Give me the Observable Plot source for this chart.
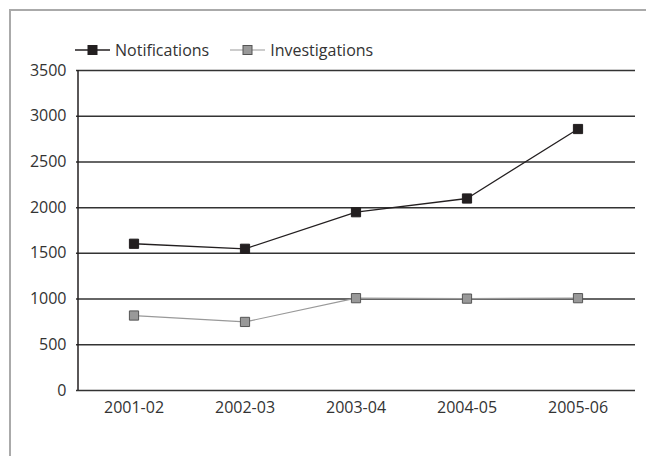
<!DOCTYPE html>
<html>
<head>
<meta charset="utf-8">
<script src="https://cdn.jsdelivr.net/npm/d3@7"></script>
<script src="https://cdn.jsdelivr.net/npm/@observablehq/plot@0.6"></script>
<style>
  html, body { margin: 0; padding: 0; background: #fff; overflow: hidden; }
  #wrap { position: relative; width: 646px; height: 456px; overflow: hidden; font-family: "Open Sans", sans-serif; }
  #btop { position: absolute; left: 9px; top: 9px; width: 637px; height: 2px; background: #aaa; }
  #bleft { position: absolute; left: 9px; top: 9px; width: 2px; height: 447px; background: #aaa; }
  #legend { position: absolute; left: 75px; top: 39px; display: flex; align-items: center; font-size: 16px; color: #333; }
  .item { display: flex; align-items: center; margin-right: 21px; }
  .item svg { margin-right: 5px; }
  #chart { position: absolute; left: 0; top: 0; width: 646px; height: 456px; overflow: hidden; }
</style>
</head>
<body>
<div id="wrap">
  <div id="btop"></div>
  <div id="bleft"></div>
  <div id="chart"></div>
  <div id="legend"></div>
</div>
<script>
const years = ["2001-02", "2002-03", "2003-04", "2004-05", "2005-06"];
const notifications = [1605, 1550, 1950, 2100, 2860];
const investigations = [820, 750, 1010, 1005, 1010];
const yTicks = [0, 500, 1000, 1500, 2000, 2500, 3000, 3500];
const seriesNames = ["Notifications", "Investigations"];

const series = [
  {name: seriesNames[0], values: notifications, stroke: "#231f20", fill: "#231f20", mstroke: "#231f20", width: 1.3},
  {name: seriesNames[1], values: investigations, stroke: "#999", fill: "#999", mstroke: "#555", width: 1.2}
];
const data = series.flatMap(s => years.map((y, i) => ({year: y, value: s.values[i], series: s.name})));

const chart = Plot.plot({
  width: 646,
  height: 456,
  marginLeft: 76,
  marginRight: 11,
  marginTop: 70,
  marginBottom: 66,
  style: {fontFamily: "Open Sans, sans-serif", fontSize: "16px", color: "#333", background: "transparent"},
  x: {type: "band", domain: years, padding: 0},
  y: {domain: [0, 3500]},
  marks: [
    Plot.ruleY(yTicks, {stroke: "#333", strokeWidth: 1.5}),
    Plot.ruleX([years[0]], {y1: 0, y2: 3500, stroke: "#231f20", strokeWidth: 1.5, dx: -56}),
    Plot.axisY({ticks: yTicks, tickFormat: d => String(d), tickSize: 0, tickPadding: 10, label: null, fill: "#333", fontSize: 16}),
    Plot.axisX({tickSize: 0, tickPadding: 11, label: null, fill: "#333", fontSize: 16}),
    ...series.map(s => Plot.line(data.filter(d => d.series === s.name), {x: "year", y: "value", stroke: s.stroke, strokeWidth: s.width})),
    ...series.map(s => Plot.dot(data.filter(d => d.series === s.name), {x: "year", y: "value", symbol: "square", r: 5.2, fill: s.fill, stroke: s.mstroke, strokeWidth: 1}))
  ]
});
document.getElementById("chart").appendChild(chart);

const legend = document.getElementById("legend");
series.forEach(s => {
  const item = document.createElement("div");
  item.className = "item";
  item.innerHTML = `<svg width="35" height="14"><line x1="0" y1="7" x2="35" y2="7" stroke="${s.stroke}" stroke-width="${s.width}"/><rect x="13" y="2.5" width="9" height="9" fill="${s.fill}" stroke="${s.mstroke}" stroke-width="1"/></svg><span>${s.name}</span>`;
  legend.appendChild(item);
});
</script>
</body>
</html>
